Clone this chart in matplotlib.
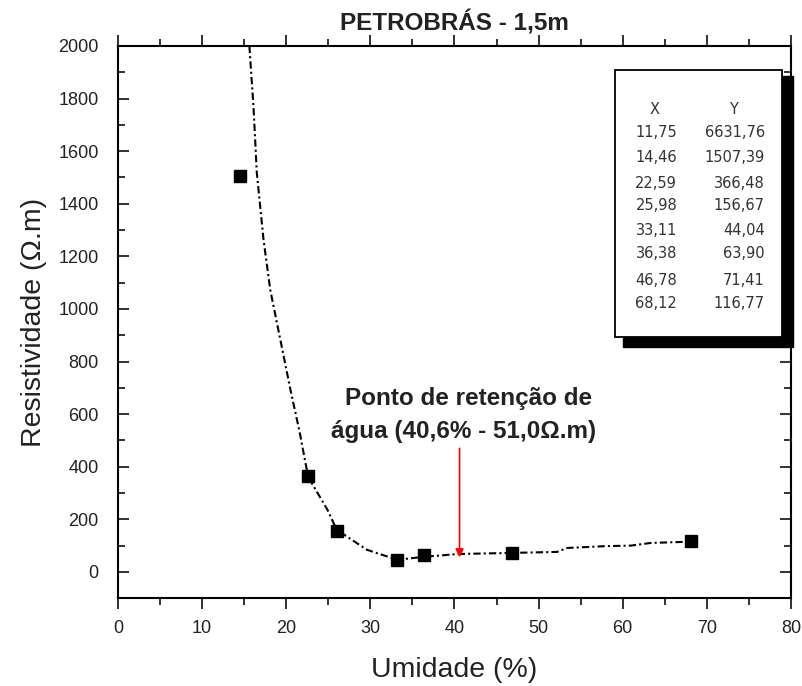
import matplotlib
matplotlib.use("Agg")
import matplotlib.pyplot as plt
from matplotlib.patches import Rectangle
from matplotlib.ticker import MultipleLocator

plt.rcParams.update({"font.family": ["Liberation Sans", "DejaVu Sans"]})

# measured points (humidity %, resistivity ohm.m)
umidade = [11.75, 14.46, 22.59, 25.98, 33.11, 36.38, 46.78, 68.12]
resist = [6631.76, 1507.39, 366.48, 156.67, 44.04, 63.90, 71.41, 116.77]

# fitted curve
fit_x = [15.5, 15.7, 16.1, 16.5, 17.3, 18.1, 19.3, 20.5, 21.6, 22.6, 24.9, 26.0,
         29.6, 33.2, 36.3, 40.4, 46.6, 52.2, 53.4, 58.0, 61.0, 63.3, 67.2, 68.1]
fit_y = [2060, 1958, 1770, 1517, 1262, 1072, 882, 692, 530, 361, 236, 160,
         84, 46, 57, 68, 72, 76, 91, 98, 100, 110, 114, 117]

# retention point annotation
ret_x = 40.6
arrow_top, arrow_tip = 470, 55

fig = plt.figure(figsize=(8.03, 6.86), dpi=100)
ax = fig.add_axes([0.147, 0.128, 0.838, 0.805])

ax.plot(fit_x, fit_y, color="black", lw=1.5, dashes=(3.5, 1.5, 1, 1.5), zorder=2)
ax.plot(umidade, resist, ls="none", marker="s", ms=8.5, color="black", zorder=3)

ax.annotate("", xy=(ret_x, arrow_tip), xytext=(ret_x, arrow_top),
            arrowprops=dict(arrowstyle="-|>", color="red", lw=1.2,
                            mutation_scale=12, shrinkA=0, shrinkB=0))
ax.text(41.7, 660, "Ponto de retenção de", ha="center", va="center",
        fontsize=17.5, fontweight="bold", color="#222")
ax.text(41.1, 532, "água (40,6% - 51,0Ω.m)", ha="center", va="center",
        fontsize=17.5, fontweight="bold", color="#222")

ax.set_xlim(0, 80)
ax.set_ylim(-100, 2000)
ax.xaxis.set_major_locator(MultipleLocator(10))
ax.xaxis.set_minor_locator(MultipleLocator(5))
ax.yaxis.set_major_locator(MultipleLocator(200))
ax.yaxis.set_minor_locator(MultipleLocator(100))
ax.tick_params(which="both", top=True, right=True, direction="in", width=1.3,
               labelsize=13, colors="#222")
ax.tick_params(axis="x", which="both", bottom=True, direction="out", pad=8)
ax.tick_params(axis="y", which="both", pad=14)
ax.tick_params(which="major", length=8)
ax.tick_params(which="minor", length=5)
for s in ax.spines.values():
    s.set_linewidth(1.5)

ax.set_xlabel("Umidade (%)", fontsize=20.5, color="#222", labelpad=14)
ax.set_ylabel("Resistividade (Ω.m)", fontsize=20.5, color="#222", labelpad=8)
ax.set_title("PETROBRÁS - 1,5m", fontsize=17.5, fontweight="bold", color="#222", pad=11)

# data table box with shadow
ax.add_patch(Rectangle((0.75, 0.455), 0.253, 0.49, transform=ax.transAxes,
                       facecolor="black", edgecolor="black", zorder=4, clip_on=False))
ax.add_patch(Rectangle((0.738, 0.473), 0.249, 0.484, transform=ax.transAxes,
                       facecolor="white", edgecolor="black", lw=1.3, zorder=5, clip_on=False))
row_px = [133, 157, 183, 205, 230, 253, 280, 303]
tbl = dict(transform=ax.transAxes, va="center", fontsize=10.5, color="#333", zorder=6,
           family=["DejaVu Sans"])
ax.text(0.798, (598 - 110) / 552, "X", ha="center", **tbl)
ax.text(0.914, (598 - 110) / 552, "Y", ha="center", **tbl)
for xv, yv, py in zip(umidade, resist, row_px):
    yy = (598 - py) / 552
    ax.text(0.831, yy, f"{xv:.2f}".replace(".", ","), ha="right", **tbl)
    ax.text(0.961, yy, f"{yv:.2f}".replace(".", ","), ha="right", **tbl)

fig.savefig("out.png", dpi=100)
